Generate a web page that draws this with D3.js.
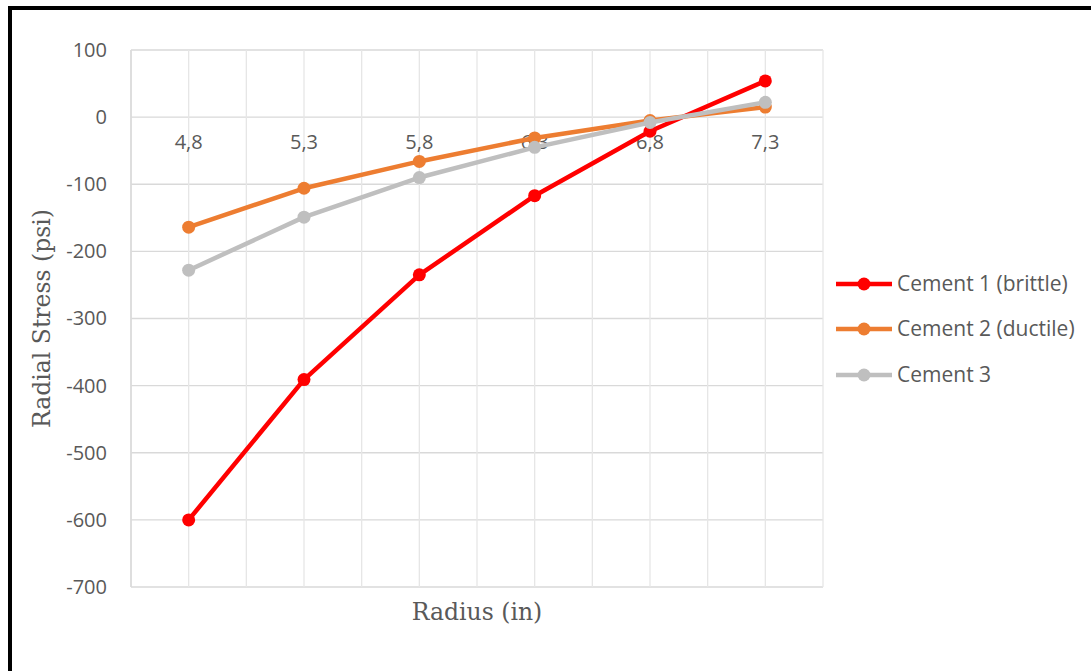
<!DOCTYPE html>
<html><head><meta charset="utf-8">
<script src="https://cdn.jsdelivr.net/npm/d3@7"></script>
<style>html,body{margin:0;padding:0;background:#fff;overflow:hidden}</style>
</head><body>
<svg id="chart" width="1091" height="671"></svg>
<script>
const categories = ["4,8","5,3","5,8","6,3","6,8","7,3"];
const cement1 = [-600,-391,-235,-117,-21,54];
const cement2 = [-164,-106,-66,-31,-5,15];
const cement3 = [-228,-149,-90,-45,-8,22];
const seriesNames = ["Cement 1 (brittle)","Cement 2 (ductile)","Cement 3"];
const seriesColors = ["#ff0000","#ed7d31","#bfbfbf"];
const yTicks = [100,0,-100,-200,-300,-400,-500,-600,-700];
const yTitle = "Radial Stress (psi)";
const xTitle = "Radius (in)";

const svg = d3.select("#chart");
const tickFont = "Open Sans, sans-serif";
const titleFont = "DejaVu Serif, serif";
const textColor = "#595959";

const x = d3.scaleBand().domain(categories).range([131, 823]);
const y = d3.scaleLinear().domain([-700, 100]).range([587, 50]);

// border
svg.append("rect").attr("x",10).attr("y",8).attr("width",1200).attr("height",800)
  .attr("fill","none").attr("stroke","#000").attr("stroke-width",4);

const grid = svg.append("g");
grid.selectAll("line.h").data(yTicks).join("line")
  .attr("x1", x.range()[0]).attr("x2", x.range()[1])
  .attr("y1", d => y(d)).attr("y2", d => y(d))
  .attr("stroke","#d9d9d9").attr("stroke-width",1.3);
const vx = [];
categories.forEach(c => { vx.push(x(c)); vx.push(x(c) + x.bandwidth()/2); });
vx.push(x.range()[1]);
grid.selectAll("line.v").data(vx).join("line")
  .attr("x1", d => d).attr("x2", d => d)
  .attr("y1", y(100)).attr("y2", y(-700))
  .attr("stroke","#e6e6e6").attr("stroke-width",1.3);
grid.append("line").attr("x1",x.range()[0]).attr("x2",x.range()[0]).attr("y1",y(100)).attr("y2",y(-700)).attr("stroke","#d9d9d9").attr("stroke-width",1.5);

// y axis
const yAxis = d3.axisLeft(y).tickValues(yTicks).tickSize(0).tickPadding(0).tickFormat(d3.format("d"));
const yg = svg.append("g").attr("transform", `translate(${x.range()[0]-24},0)`).call(yAxis);
yg.select(".domain").remove();
yg.selectAll("text").attr("font-family", tickFont).attr("font-size", 20).attr("fill", textColor)
  .text(d => d < 0 ? "-" + Math.abs(d) : d);

// x axis at zero
const xAxis = d3.axisBottom(x).tickSize(0).tickPadding(18);
const xg = svg.append("g").attr("transform", `translate(0,${y(0)})`).call(xAxis);
xg.select(".domain").remove();
xg.selectAll("text").attr("font-family", tickFont).attr("font-size", 20).attr("fill", textColor);

// axis titles
svg.append("text").attr("transform", `translate(50,${(y(100)+y(-700))/2}) rotate(-90)`)
  .attr("text-anchor","middle").attr("font-family", titleFont).attr("font-size", 23.5)
  .attr("fill", textColor).text(yTitle);
svg.append("text").attr("x", (x.range()[0]+x.range()[1])/2).attr("y", 620)
  .attr("text-anchor","middle").attr("font-family", titleFont).attr("font-size", 23.5)
  .attr("fill", textColor).text(xTitle);

// series
const allSeries = [cement1, cement2, cement3];
const cx = c => x(c) + x.bandwidth()/2;
const line = d3.line().x((d,i) => cx(categories[i])).y(d => y(d));
allSeries.forEach((s, k) => {
  const g = svg.append("g");
  g.append("path").datum(s).attr("d", line).attr("fill","none")
    .attr("stroke", seriesColors[k]).attr("stroke-width", 4.5).attr("stroke-linejoin","round").attr("stroke-linecap","round");
  g.selectAll("circle").data(s).join("circle")
    .attr("cx", (d,i) => cx(categories[i])).attr("cy", d => y(d)).attr("r", 6.5)
    .attr("fill", seriesColors[k]);
});

// legend
const leg = svg.append("g");
const legY = [284, 329, 375];
seriesNames.forEach((n, k) => {
  const gy = legY[k];
  leg.append("line").attr("x1",836).attr("x2",892).attr("y1",gy).attr("y2",gy)
    .attr("stroke", seriesColors[k]).attr("stroke-width",4.5);
  leg.append("circle").attr("cx",864).attr("cy",gy).attr("r",6.5).attr("fill",seriesColors[k]);
  leg.append("text").attr("x",897).attr("y",gy).attr("dy","0.35em")
    .attr("font-family", tickFont).attr("font-size", 21).attr("fill", textColor).text(n);
});
</script>
</body></html>
